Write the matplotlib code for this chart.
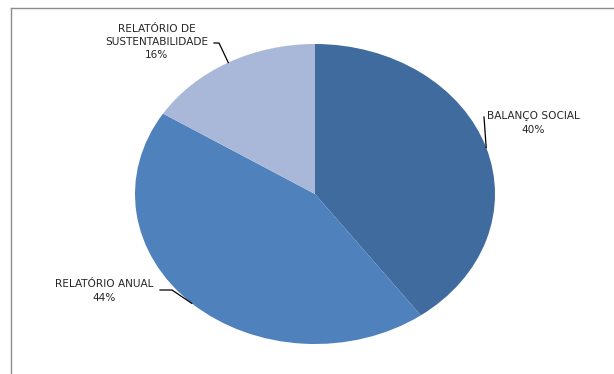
import numpy as np
import matplotlib
matplotlib.use("Agg")
import matplotlib.pyplot as plt
from matplotlib.lines import Line2D

# data
labels = ["BALANÇO SOCIAL", "RELATÓRIO ANUAL", "RELATÓRIO DE\nSUSTENTABILIDADE"]
values = [40, 44, 16]
colors = ["#3F6B9F", "#4F81BD", "#A9B8D8"]

W, H = 614, 374
fig = plt.figure(figsize=(W / 100, H / 100), dpi=100)

# pie area (stretched ellipse like the original)
ax = fig.add_axes([135 / W, 30 / H, 360 / W, 300 / H])
wedges, _ = ax.pie(values, colors=colors, startangle=90, counterclock=False,
                   wedgeprops=dict(linewidth=0))
ax.set_aspect("auto")
ax.set_xlim(-1, 1)
ax.set_ylim(-1, 1)
ax.axis("off")

# label positions in figure pixels (x, y from bottom) and elbow points
text_pos = [(533, 374 - 123), (104, 374 - 291), (157, 374 - 42)]
elbow = [(484, 374 - 117), (160, 374 - 290), (214, 374 - 43)]
elbow2 = [None, (172, 374 - 290), (219, 374 - 43)]

for w, lab, v, tp, e1, e2 in zip(wedges, labels, values, text_pos, elbow, elbow2):
    mid = np.deg2rad((w.theta1 + w.theta2) / 2)
    x, y = np.cos(mid), np.sin(mid)
    fig.text(tp[0] / W, tp[1] / H, f"{lab}\n{v}%", ha="center", va="center",
             multialignment="center", fontsize=7.6, color="#262626",
             linespacing=1.4)
    # leader line: from wedge edge to label
    px, py = fig.transFigure.inverted().transform(ax.transData.transform((x, y)))
    pts = [(px, py)]
    if e2 is not None:
        pts.append((e2[0] / W, e2[1] / H))
    pts.append((e1[0] / W, e1[1] / H))
    xs, ys = zip(*pts)
    fig.add_artist(Line2D(xs, ys, transform=fig.transFigure, color="black", lw=0.9))

# frame lines of the original chart area
fig.add_artist(Line2D([11 / W, 1], [1 - 8 / H, 1 - 8 / H], transform=fig.transFigure,
                      color="#8C8C8C", lw=1))
fig.add_artist(Line2D([11 / W, 11 / W], [0, 1 - 8 / H], transform=fig.transFigure,
                      color="#8C8C8C", lw=1))

fig.savefig("out.png", dpi=100)
